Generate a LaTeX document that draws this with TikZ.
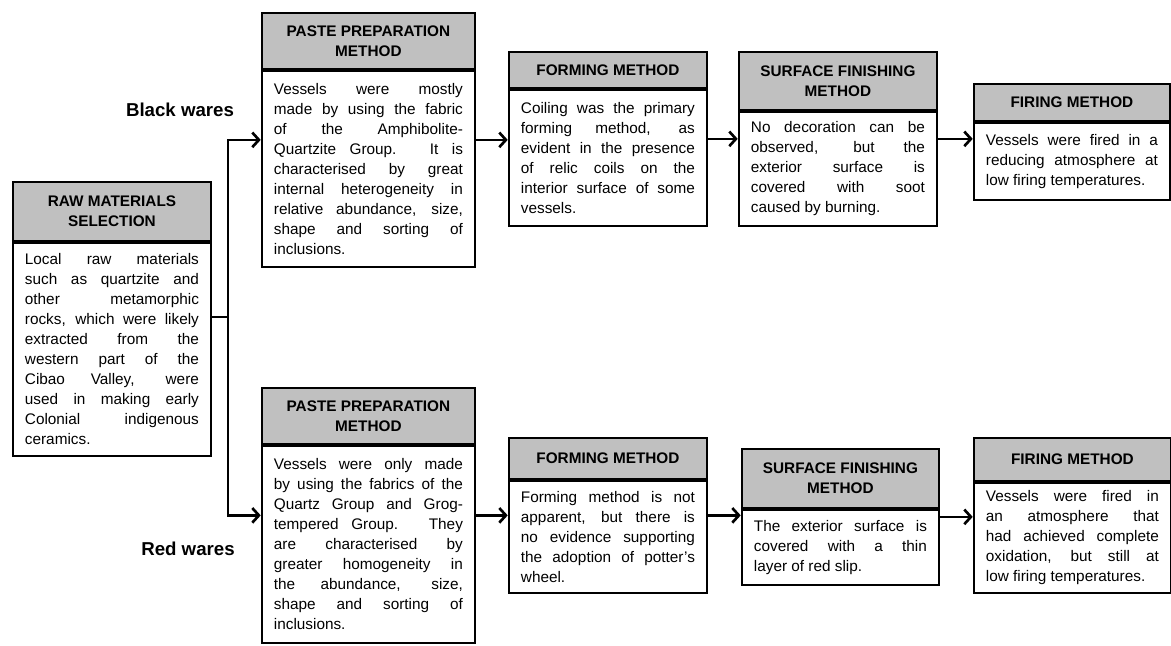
\documentclass[tikz,border=0pt]{standalone}
\usepackage{fontspec}
\setmainfont{Liberation Sans}
\usetikzlibrary{arrows.meta,fit}
\definecolor{hdgray}{RGB}{192,192,192}
\tolerance=10000
\hyphenpenalty=10000

\tikzset{
  hd/.style={draw, line width=1.4pt, fill=hdgray, anchor=north west, align=center,
    inner sep=0pt, font=\bfseries\fontsize{11.5}{15}\selectfont},
  bd/.style={draw, line width=1.4pt, fill=white, anchor=north west, align=justify,
    inner xsep=9pt, inner ysep=0pt, font=\fontsize{11.5}{15}\selectfont},
  ware/.style={font=\bfseries\fontsize{14}{16}\selectfont},
  link/.style={line width=2pt},
  arr/.style={line width=2pt, -{Straight Barb[length=5pt,width=11pt,line width=2pt]}}
}

\begin{document}
\begin{tikzpicture}[x=0.75pt, y=-0.75pt]
  \useasboundingbox (0,0) rectangle (1171,646);
  % raw materials
  \node[hd, minimum width=148.5pt, minimum height=44.25pt] (rawh) at (12,181)
    {RAW MATERIALS\\SELECTION};
  \node[bd, text width=130.5pt, minimum height=159.75pt] (rawb) at (rawh.south west)
    {Local raw materials\linebreak such as quartzite and\linebreak other metamorphic\linebreak
     rocks, which were likely\linebreak extracted from the\linebreak western part of the\linebreak
     Cibao Valley, were\linebreak used in making early\linebreak Colonial indigenous\linebreak ceramics.};
  \node[fit=(rawh)(rawb), inner sep=0pt] (raw) {};
  \node[ware] (black) at (180,110) {Black wares};
  \node[ware] (red) at (188,549) {Red wares};
  %
  % black wares
  \node[hd, minimum width=159.75pt, minimum height=42pt] (pbh) at (261,12)
    {PASTE PREPARATION\\METHOD};
  \node[bd, text width=141.75pt, minimum height=147pt] (pbb) at (pbh.south west)
    {Vessels were mostly\linebreak made by using the fabric\linebreak of the Amphibolite-\linebreak
     Quartzite Group. It is\linebreak characterised by great\linebreak internal heterogeneity in\linebreak
     relative abundance, size,\linebreak shape and sorting of\linebreak inclusions.};
  \node[fit=(pbh)(pbb), inner sep=0pt] (pb) {};
  \node[hd, minimum width=148.5pt, minimum height=27pt] (fbh) at (508,51)
    {FORMING METHOD};
  \node[bd, text width=130.5pt, minimum height=102pt] (fbb) at (fbh.south west)
    {Coiling was the primary\linebreak forming method, as\linebreak evident in the presence\linebreak
     of relic coils on the\linebreak interior surface of some\linebreak vessels.};
  \node[fit=(fbh)(fbb), inner sep=0pt] (fb) {};
  \node[hd, minimum width=148.5pt, minimum height=43.5pt] (sbh) at (738,51)
    {SURFACE FINISHING\\METHOD};
  \node[bd, text width=130.5pt, minimum height=85.5pt] (sbb) at (sbh.south west)
    {No decoration can be\linebreak observed, but the\linebreak exterior surface is\linebreak
     covered with soot\linebreak caused by burning.};
  \node[fit=(sbh)(sbb), inner sep=0pt] (sb) {};
  \node[hd, minimum width=147pt, minimum height=27.75pt] (ibh) at (973,83)
    {FIRING METHOD};
  \node[bd, text width=129pt, minimum height=57.75pt] (ibb) at (ibh.south west)
    {Vessels were fired in a\linebreak reducing atmosphere at\linebreak low firing temperatures.};
  \node[fit=(ibh)(ibb), inner sep=0pt] (ib) {};
  %
  % red wares
  \node[hd, minimum width=159.75pt, minimum height=42pt] (prh) at (261,387)
    {PASTE PREPARATION\\METHOD};
  \node[bd, text width=141.75pt, minimum height=147.75pt] (prb) at (prh.south west)
    {Vessels were only made\linebreak by using the fabrics of the\linebreak Quartz Group and Grog-\linebreak
     tempered Group. They\linebreak are characterised by\linebreak greater homogeneity in\linebreak
     the abundance, size,\linebreak shape and sorting of\linebreak inclusions.};
  \node[fit=(prh)(prb), inner sep=0pt] (pr) {};
  \node[hd, minimum width=148.5pt, minimum height=30.75pt] (frh) at (508,437)
    {FORMING METHOD};
  \node[bd, text width=130.5pt, minimum height=84pt] (frb) at (frh.south west)
    {Forming method is not\linebreak apparent, but there is\linebreak no evidence supporting\linebreak
     the adoption of potter’s\linebreak wheel.};
  \node[fit=(frh)(frb), inner sep=0pt] (fr) {};
  \node[hd, minimum width=147.75pt, minimum height=44.25pt] (srh) at (741,448)
    {SURFACE FINISHING\\METHOD};
  \node[bd, text width=129.75pt, minimum height=56.25pt] (srb) at (srh.south west)
    {The exterior surface is\linebreak covered with a thin\linebreak layer of red slip.};
  \node[fit=(srh)(srb), inner sep=0pt] (sr) {};
  \node[hd, minimum width=147.75pt, minimum height=32.25pt] (irh) at (973,437)
    {FIRING METHOD};
  \node[bd, text width=129.75pt, minimum height=82.5pt] (irb) at (irh.south west)
    {Vessels were fired in\linebreak an atmosphere that\linebreak had achieved complete\linebreak
     oxidation, but still at\linebreak low firing temperatures.};
  \node[fit=(irh)(irb), inner sep=0pt] (ir) {};
  %
  % connectors
  \coordinate (split) at (228,317);
  \draw[link] (raw.east |- split) -- (split);
  \draw[arr] (split) |- (pb.west);
  \draw[arr] (split) |- (pr.west);
  \draw[arr] (pb.east) -- (pb.east -| fb.west);
  \draw[arr] (fb.east) -- (fb.east -| sb.west);
  \draw[arr] (sb.east) -- (sb.east -| ib.west);
  \draw[arr] (pr.east) -- (pr.east -| fr.west);
  \draw[arr] (fr.east) -- (fr.east -| sr.west);
  \draw[arr] (sr.east) -- (sr.east -| ir.west);
\end{tikzpicture}
\end{document}
